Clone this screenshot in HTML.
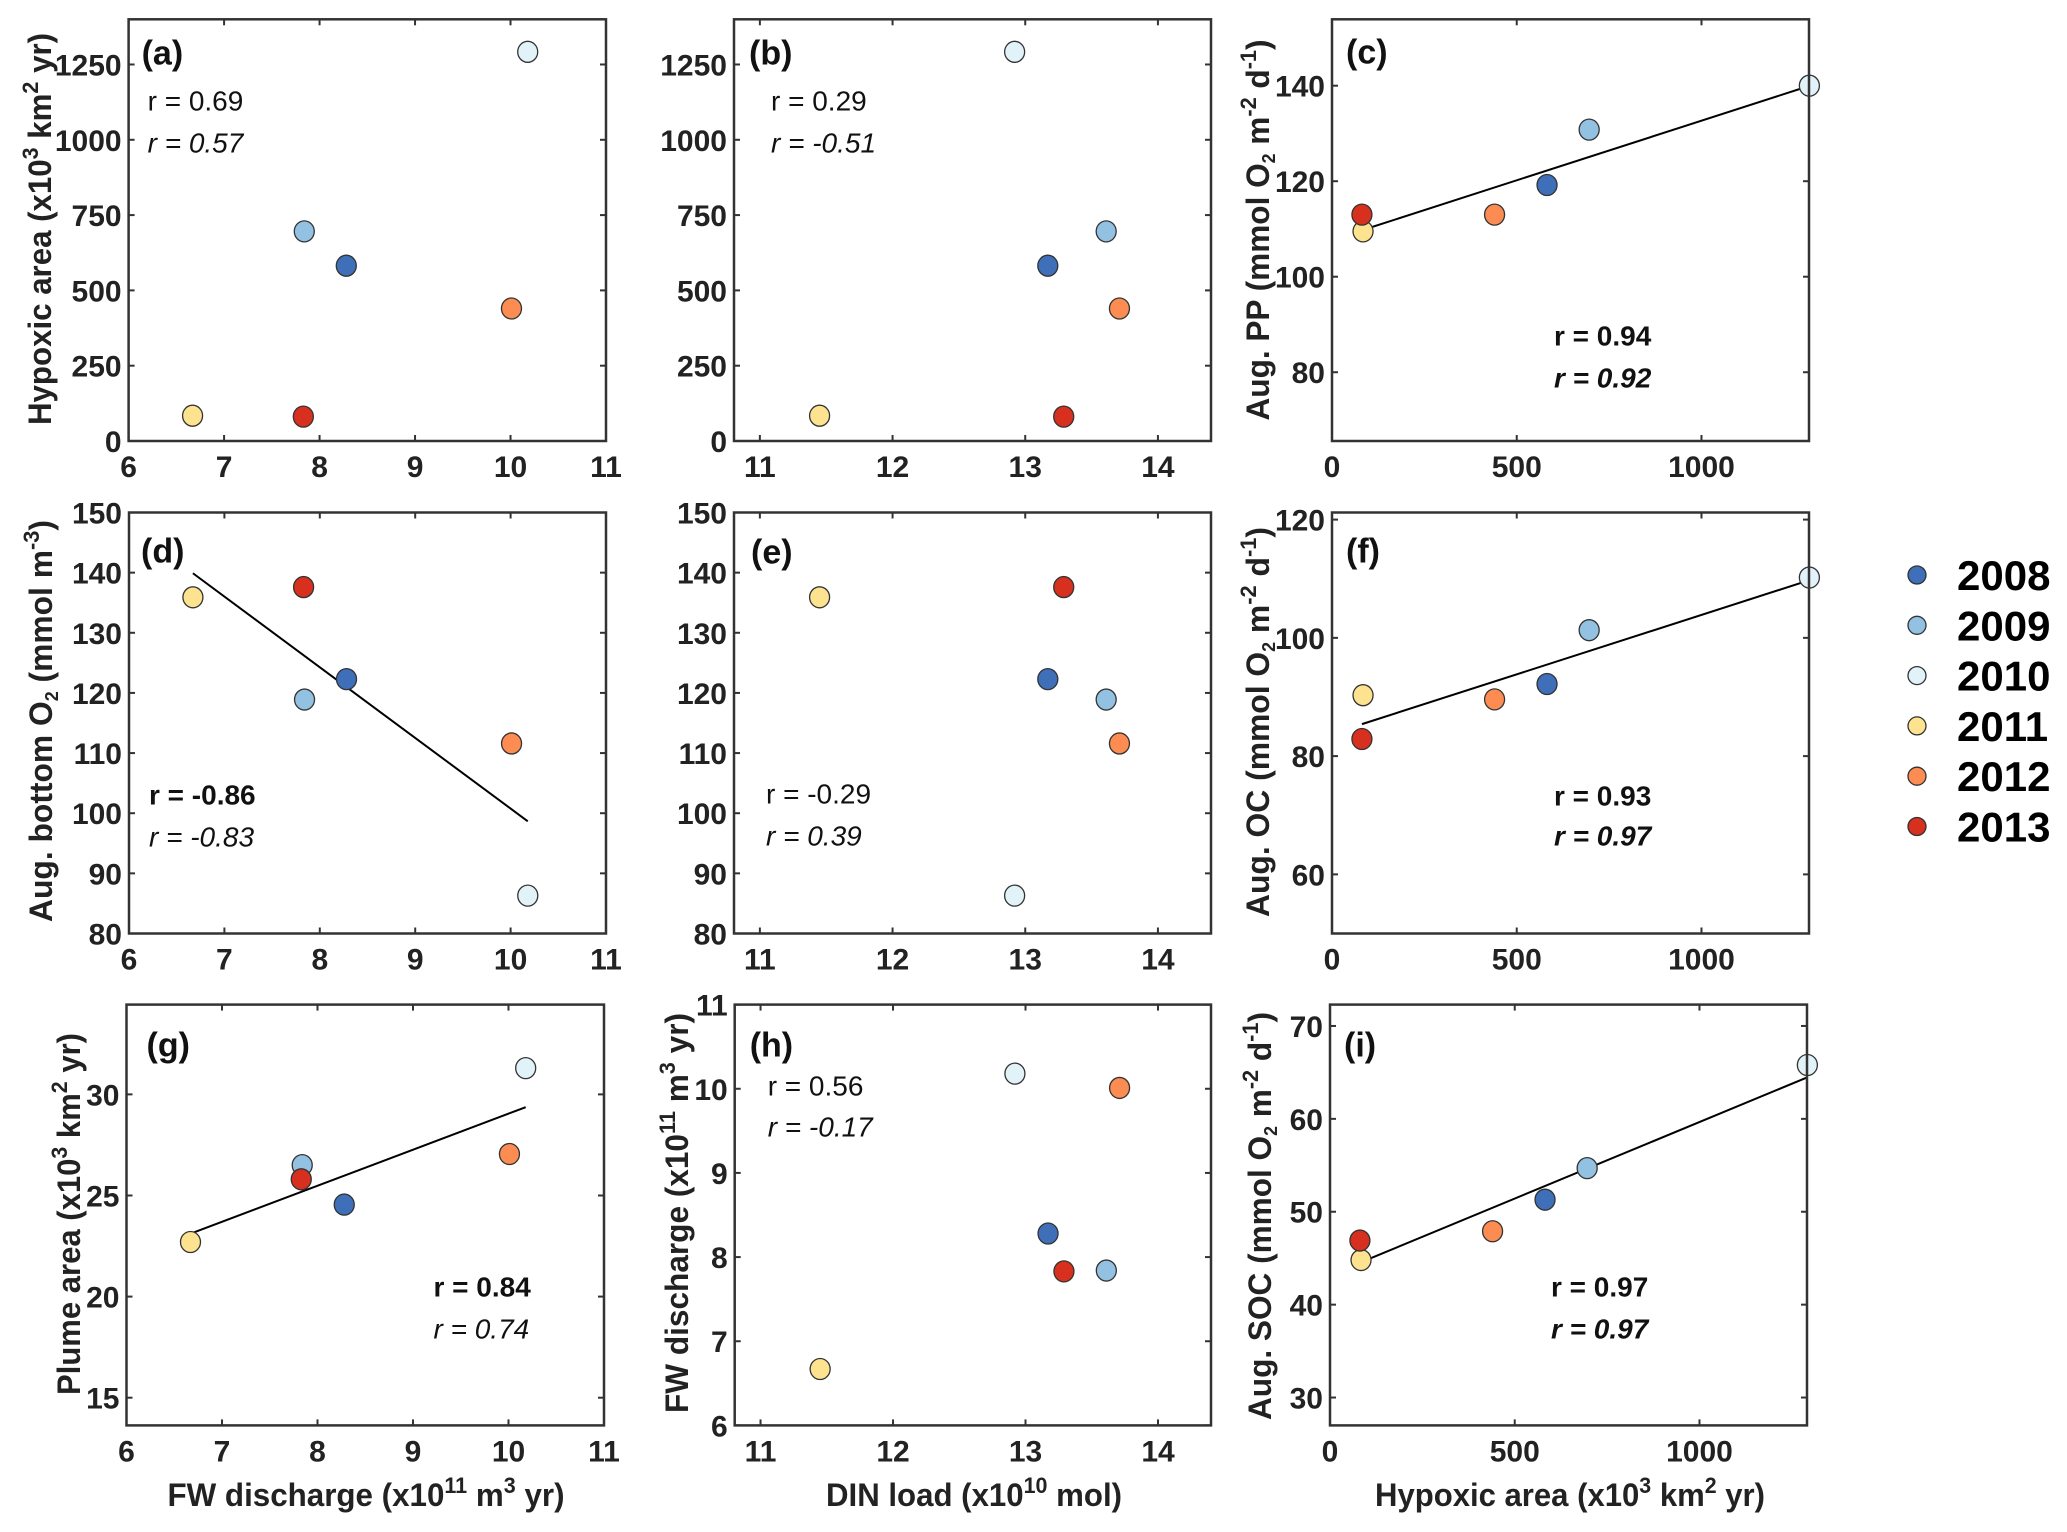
<!DOCTYPE html>
<html><head><meta charset="utf-8">
<style>
html,body{margin:0;padding:0;background:#fff;}
svg{display:block;font-family:"Liberation Sans",Arial,sans-serif;}
</style></head>
<body>
<svg id="fig" width="2067" height="1532" viewBox="0 0 2067 1532" xmlns="http://www.w3.org/2000/svg"></svg>
<script>
// ---- data (one value per year) ----
const years = ["2008","2009","2010","2011","2012","2013"];
const yearColors = ["#3e6fb8","#92c1e1","#e2f2f9","#fde38f","#fc8c52","#d7301f"];
const fwDischarge = [8.28, 7.84, 10.18, 6.67, 10.01, 7.83];
const hypoxicArea = [582, 696, 1292, 84, 440, 81];
const dinLoad = [13.17, 13.61, 12.92, 11.45, 13.71, 13.29];
const bottomO2 = [122.3, 118.9, 86.3, 135.9, 111.6, 137.6];
const augPP = [119.2, 130.8, 140.0, 109.5, 113.0, 113.0];
const augOC = [92.2, 101.3, 110.2, 90.3, 89.6, 82.9];
const plumeArea = [24.55, 26.5, 31.3, 22.7, 27.05, 25.8];
const augSOC = [51.3, 54.7, 65.8, 44.8, 47.9, 46.9];
// tick labels
const ticksFW = [6,7,8,9,10,11];
const ticksDIN = [11,12,13,14];
const ticksHyp = [0,500,1000];
const ticksHypY = [0,250,500,750,1000,1250];
const ticksPP = [80,100,120,140];
const ticksO2 = [80,90,100,110,120,130,140,150];
const ticksOC = [60,80,100,120];
const ticksPlume = [15,20,25,30];
const ticksFWy = [6,7,8,9,10,11];
const ticksSOC = [30,40,50,60,70];
// correlation annotations
const rTexts = {a:["r = 0.69","r = 0.57"],b:["r = 0.29","r = -0.51"],c:["r = 0.94","r = 0.92"],
  d:["r = -0.86","r = -0.83"],e:["r = -0.29","r = 0.39"],f:["r = 0.93","r = 0.97"],
  g:["r = 0.84","r = 0.74"],h:["r = 0.56","r = -0.17"],i:["r = 0.97","r = 0.97"]};

const NS="http://www.w3.org/2000/svg";
const svg=document.getElementById('fig');
function mk(tag,attrs,parent){const e=document.createElementNS(NS,tag);for(const k in attrs)e.setAttribute(k,attrs[k]);(parent||svg).appendChild(e);return e;}

const panels=[
 {id:'a',L:128.6,R:606,T:19.3,B:441,xd:[6,11],yd:[0,1400],xs:fwDischarge,ys:hypoxicArea,xt:ticksFW,yt:ticksHypY,fit:false,
  lab:[13,45],r:[19,91,133],rb:[false,false],
  yl:{x:51,y:229,len:392,parts:[["Hypoxic area (x10"],["3","sup"],[" km"],["2","sup"],[" yr)"]]}},
 {id:'b',L:734,R:1211,T:19.3,B:441,xd:[10.805,14.4],yd:[0,1400],xs:dinLoad,ys:hypoxicArea,xt:ticksDIN,yt:ticksHypY,fit:false,
  lab:[15,45],r:[37,91,133],rb:[false,false]},
 {id:'c',L:1332,R:1809,T:19.3,B:441,xd:[0,1291],yd:[65.6,153.9],xs:hypoxicArea,ys:augPP,xt:ticksHyp,yt:ticksPP,fit:true,
  lab:[14,44],r:[222,326,368],rb:[true,true],
  yl:{x:1269,y:230,len:381,parts:[["Aug. PP (mmol O"],["2","sub"],[" m"],["-2","sup"],[" d"],["-1","sup"],[")"]]}},
 {id:'d',L:129,R:606,T:512.5,B:933.5,xd:[6,11],yd:[80,150],xs:fwDischarge,ys:bottomO2,xt:ticksFW,yt:ticksO2,fit:true,
  lab:[12,50],r:[20,292,334],rb:[true,false],
  yl:{x:52,y:721,len:402,parts:[["Aug. bottom O"],["2","sub"],[" (mmol m"],["-3","sup"],[")"]]}},
 {id:'e',L:734,R:1211,T:512.5,B:933.5,xd:[10.805,14.4],yd:[80,150],xs:dinLoad,ys:bottomO2,xt:ticksDIN,yt:ticksO2,fit:false,
  lab:[17,51],r:[32,291,333],rb:[false,false]},
 {id:'f',L:1332,R:1809,T:512.5,B:933.5,xd:[0,1291],yd:[50,121.2],xs:hypoxicArea,ys:augOC,xt:ticksHyp,yt:ticksOC,fit:true,
  lab:[14,50],r:[222,293,333],rb:[true,true],
  yl:{x:1269,y:722,len:390,parts:[["Aug. OC (mmol O"],["2","sub"],[" m"],["-2","sup"],[" d"],["-1","sup"],[")"]]}},
 {id:'g',L:126.5,R:604,T:1004.6,B:1425.4,xd:[6,11],yd:[13.63,34.44],xs:fwDischarge,ys:plumeArea,xt:ticksFW,yt:ticksPlume,fit:true,
  lab:[20,52],r:[307,292,334],rb:[true,false],
  yl:{x:80,y:1214,len:362,parts:[["Plume area (x10"],["3","sup"],[" km"],["2","sup"],[" yr)"]]},
  xl:{x:366,y:1506,len:397,parts:[["FW discharge (x10"],["11","sup"],[" m"],["3","sup"],[" yr)"]]}},
 {id:'h',L:734.7,R:1211,T:1004.6,B:1425.4,xd:[10.805,14.4],yd:[6,11],xs:dinLoad,ys:fwDischarge,xt:ticksDIN,yt:ticksFWy,fit:false,
  lab:[15,52],r:[33,91,132],rb:[false,false],
  yl:{x:688,y:1213,len:400,parts:[["FW discharge (x10"],["11","sup"],[" m"],["3","sup"],[" yr)"]]},
  xl:{x:974,y:1506,len:296,parts:[["DIN load (x10"],["10","sup"],[" mol)"]]}},
 {id:'i',L:1330,R:1807,T:1004.6,B:1425.4,xd:[0,1291],yd:[27,72.3],xs:hypoxicArea,ys:augSOC,xt:ticksHyp,yt:ticksSOC,fit:true,
  lab:[14,52],r:[221,292,334],rb:[true,true],
  yl:{x:1271,y:1216,len:408,parts:[["Aug. SOC (mmol O"],["2","sub"],[" m"],["-2","sup"],[" d"],["-1","sup"],[")"]]},
  xl:{x:1570,y:1506,len:390,parts:[["Hypoxic area (x10"],["3","sup"],[" km"],["2","sup"],[" yr)"]]}}
];

function richText(g,cfg,rot,name){
  const t=mk('text',{x:cfg.x,y:cfg.y,'text-anchor':'middle','font-size':32,'font-weight':'bold',fill:'#222',
    textLength:cfg.len,lengthAdjust:'spacingAndGlyphs'},g);
  if(rot)t.setAttribute('transform',`rotate(-90 ${cfg.x} ${cfg.y})`);
  
  
  let cur=0;
  cfg.parts.forEach(p=>{
    const s=mk('tspan',{},t);
    let target=0;
    if(p[1]==='sup'){s.setAttribute('font-size',22);target=-13;}
    if(p[1]==='sub'){s.setAttribute('font-size',18);target=6;}
    if(target!==cur)s.setAttribute('dy',target-cur);
    cur=target;
    s.textContent=p[0];
  });
}

panels.forEach(P=>{
  const g=mk('g',{});
  
  
  const sx=v=>P.L+(v-P.xd[0])/(P.xd[1]-P.xd[0])*(P.R-P.L);
  const sy=v=>P.B-(v-P.yd[0])/(P.yd[1]-P.yd[0])*(P.B-P.T);
  P.xt.forEach(v=>{
    const x=sx(v);
    mk('line',{x1:x,y1:P.B,x2:x,y2:P.B-6,stroke:'#333','stroke-width':2},g);
    mk('line',{x1:x,y1:P.T,x2:x,y2:P.T+6,stroke:'#333','stroke-width':2},g);
    const t=mk('text',{x:x,y:P.B+36,'text-anchor':'middle','font-size':30,'font-weight':'bold',fill:'#222'},g);
    
    
    t.textContent=v;
  });
  P.yt.forEach(v=>{
    const y=sy(v);
    mk('line',{x1:P.L,y1:y,x2:P.L+6,y2:y,stroke:'#333','stroke-width':2},g);
    mk('line',{x1:P.R,y1:y,x2:P.R-6,y2:y,stroke:'#333','stroke-width':2},g);
    const t=mk('text',{x:P.L-7,y:y+11,'text-anchor':'end','font-size':30,'font-weight':'bold',fill:'#222'},g);
    
    
    t.textContent=v;
  });
  if(P.fit){
    const n=P.xs.length;const mx=P.xs.reduce((a,b)=>a+b)/n,my=P.ys.reduce((a,b)=>a+b)/n;
    let sxy=0,sxx=0;for(let k=0;k<n;k++){sxy+=(P.xs[k]-mx)*(P.ys[k]-my);sxx+=(P.xs[k]-mx)**2;}
    const b=sxy/sxx,a=my-b*mx;const x0=Math.min(...P.xs),x1=Math.max(...P.xs);
    const l=mk('line',{x1:sx(x0),y1:sy(a+b*x0),x2:sx(x1),y2:sy(a+b*x1),stroke:'#000','stroke-width':2},g);
    
    
  }
  P.xs.forEach((xv,k)=>{
    const c=mk('ellipse',{cx:sx(xv),cy:sy(P.ys[k]),rx:10,ry:10.5,fill:yearColors[k],stroke:'#333','stroke-width':1.3},g);
    
    
  });
  const f=mk('rect',{x:P.L,y:P.T,width:P.R-P.L,height:P.B-P.T,fill:'none',stroke:'#333','stroke-width':2.5},g);
  
  
  const lb=mk('text',{x:P.L+P.lab[0],y:P.T+P.lab[1],'font-size':34,'font-weight':'bold',fill:'#111'},g);
  
  
  lb.textContent='('+P.id+')';
  const rt=rTexts[P.id];
  [0,1].forEach(j=>{
    const t=mk('text',{x:P.L+P.r[0],y:P.T+P.r[1+j],'font-size':28,fill:'#111'},g);
    if(P.rb[j])t.setAttribute('font-weight','bold');
    if(j===1)t.setAttribute('font-style','italic');
    
    
    t.textContent=rt[j];
  });
  if(P.yl)richText(g,P.yl,true,'y-axis-title');
  if(P.xl)richText(g,P.xl,false,'x-axis-title');
});

const lg=mk('g',{});


years.forEach((yr,k)=>{
  const y=575+k*50.3;
  const e=mk('g',{},lg);
  
  
  mk('circle',{cx:1917,cy:y,r:9,fill:yearColors[k],stroke:'#333','stroke-width':1.3},e);
  const t=mk('text',{x:1957,y:y+15,'font-size':42,'font-weight':'bold',fill:'#000'},e);
  t.textContent=yr;
});
</script>
</body></html>
